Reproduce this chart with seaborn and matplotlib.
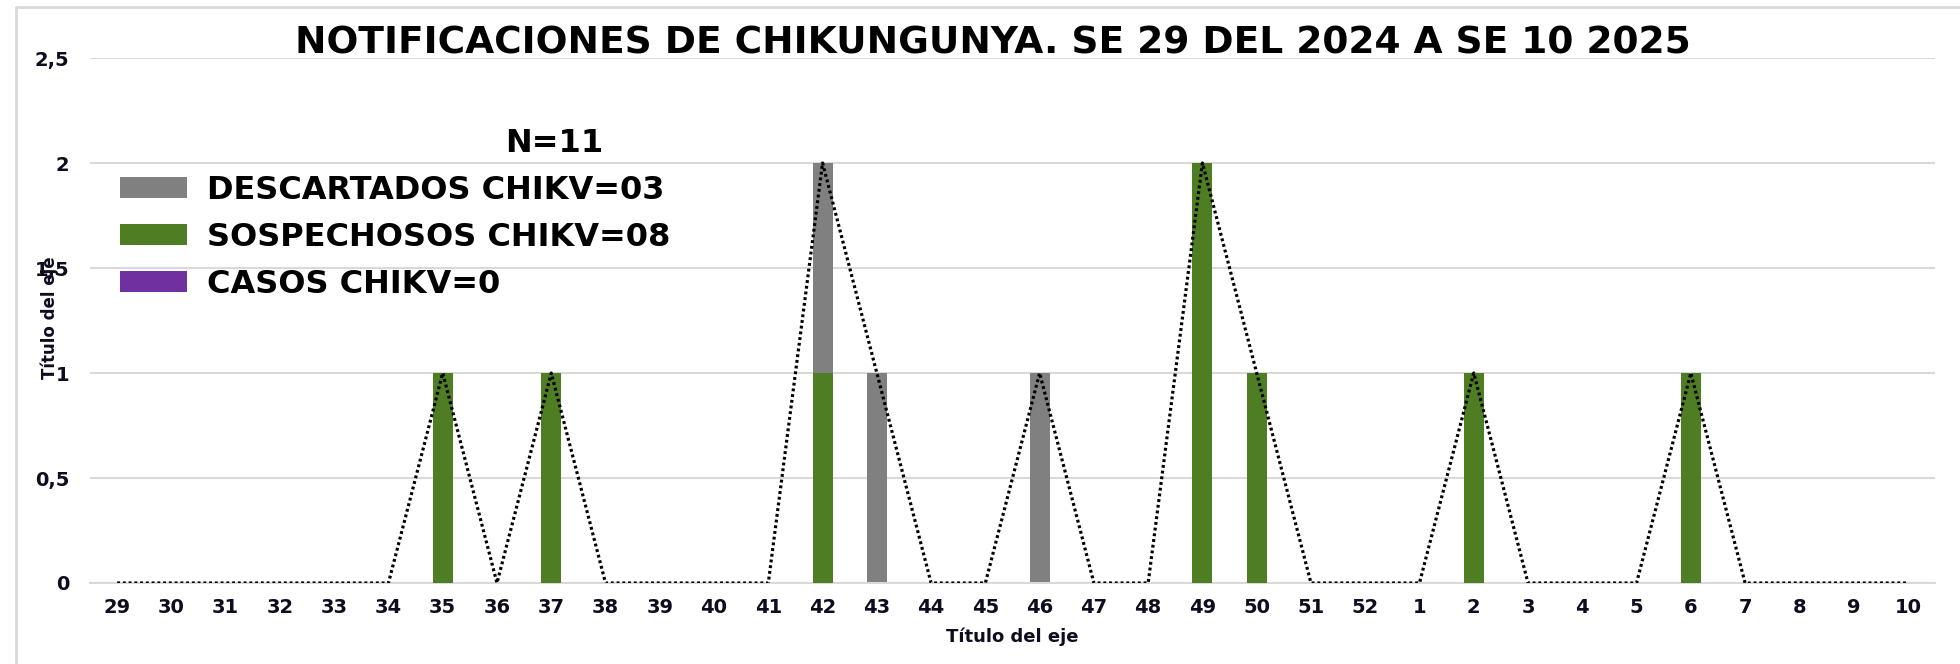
import numpy as np
import pandas as pd
import matplotlib
matplotlib.use("Agg")
import matplotlib.pyplot as plt
from matplotlib.patches import Patch
from matplotlib.lines import Line2D
import seaborn as sns

# semanas epidemiologicas SE 29 (2024) a SE 10 (2025)
semanas = ["29", "30", "31", "32", "33", "34", "35", "36", "37", "38", "39", "40",
           "41", "42", "43", "44", "45", "46", "47", "48", "49", "50", "51", "52",
           "1", "2", "3", "4", "5", "6", "7", "8", "9", "10"]
descartados = [0, 0, 0, 0, 0, 0, 0, 0, 0, 0, 0, 0,
               0, 1, 1, 0, 0, 1, 0, 0, 0, 0, 0, 0,
               0, 0, 0, 0, 0, 0, 0, 0, 0, 0]
sospechosos = [0, 0, 0, 0, 0, 0, 1, 0, 1, 0, 0, 0,
               0, 1, 0, 0, 0, 0, 0, 0, 2, 1, 0, 0,
               0, 1, 0, 0, 0, 1, 0, 0, 0, 0]
casos = [0] * 34

leyenda = ["DESCARTADOS CHIKV=03", "SOSPECHOSOS CHIKV=08", "CASOS CHIKV=0"]
titulo = "NOTIFICACIONES DE CHIKUNGUNYA. SE 29 DEL 2024 A SE 10 2025"

c_gris = "#808080"
c_verde = "#4f7d23"
c_morado = "#7030a0"
c_grid = "#d9d9d9"
c_txt = "#0d0d1f"

df = pd.DataFrame({"semana": semanas, "desc": descartados,
                   "sosp": sospechosos, "casos": casos})
df["total"] = df["desc"] + df["sosp"] + df["casos"]
df["total_barra"] = df["desc"] + df["sosp"]

sns.set_style("white")
plt.rcParams["font.family"] = ["DejaVu Sans"]

W, H = 1960, 664
fig = plt.figure(figsize=(W / 100, H / 100), dpi=100)
ax = fig.add_axes([90 / W, 1 - 583 / H, (1935 - 90) / W, (583 - 58) / H])

# barras apiladas: total (gris) y encima sospechosos (verde)
sns.barplot(data=df, x="semana", y="total_barra", order=semanas, color=c_gris,
            saturation=1, width=0.37, linewidth=0, ax=ax, zorder=2)
sns.barplot(data=df, x="semana", y="sosp", order=semanas, color=c_verde,
            saturation=1, width=0.37, linewidth=0, ax=ax, zorder=3)

# linea punteada del total
sns.pointplot(data=df, x="semana", y="total", order=semanas, color="black",
              marker="", linestyle=(0, (0.9, 0.9)), linewidth=2.3, errorbar=None,
              ax=ax, zorder=4)

ax.set_xlim(-0.5, len(semanas) - 0.5)
ax.set_ylim(0, 2.5)
ax.set_yticks([0, 0.5, 1, 1.5, 2, 2.5])
ax.set_yticklabels(["0", "0,5", "1", "1,5", "2", "2,5"])
ax.yaxis.grid(True, color=c_grid, linewidth=1.5)
ax.set_axisbelow(True)
for s in ["top", "right", "left"]:
    ax.spines[s].set_visible(False)
ax.spines["bottom"].set_color(c_grid)
ax.spines["bottom"].set_linewidth(1.5)

ax.set_xticks(np.arange(len(semanas)))
ax.set_xticklabels(semanas)
ax.set_xticks(np.arange(len(semanas) + 1) - 0.5, minor=True)
ax.tick_params(axis="x", which="major", length=0, pad=11, labelsize=14,
               labelcolor=c_txt)
ax.tick_params(axis="x", which="minor", length=5, width=1.5, color=c_grid)
ax.tick_params(axis="y", length=0, pad=15, labelsize=14, labelcolor=c_txt)
for t in ax.get_xticklabels() + ax.get_yticklabels():
    t.set_fontweight("bold")

ax.set_xlabel("")
ax.set_ylabel("")
fig.text(1012 / W, 1 - 637 / H, "Título del eje", ha="center", va="center",
         fontsize=13, fontweight="bold", color=c_txt)
fig.text(50 / W, 1 - 318 / H, "Título del eje", ha="center", va="center",
         rotation=90, fontsize=12, fontweight="bold", color=c_txt,
         family=["Liberation Sans Narrow", "DejaVu Sans"])

# titulo
fig.text(993 / W, 1 - 44 / H, titulo, ha="center", va="center",
         fontsize=27, fontweight="bold", color="black")

# leyenda
fig.text(554 / W, 1 - 143 / H, "N=11", ha="center", va="center",
         fontsize=23, fontweight="bold", color="black")
handles = [Patch(facecolor=c_gris, edgecolor="none"),
           Patch(facecolor=c_verde, edgecolor="none"),
           Patch(facecolor=c_morado, edgecolor="none")]
leg = ax.legend(handles, leyenda, loc="upper left",
                bbox_to_anchor=(120 / W, 1 - 175 / H),
                bbox_transform=fig.transFigure,
                frameon=False, prop={"size": 23, "weight": "bold"},
                handlelength=2.1, handleheight=0.63, handletextpad=0.62,
                labelspacing=0.5, borderpad=0, borderaxespad=0)
for t in leg.get_texts():
    t.set_color("black")

# borde del grafico
fig.add_artist(Line2D([16 / W, 16 / W, 1.0], [0.0, 1 - 7 / H, 1 - 7 / H],
                      transform=fig.transFigure, color=c_grid, linewidth=2))

fig.savefig("out.png", dpi=100)
